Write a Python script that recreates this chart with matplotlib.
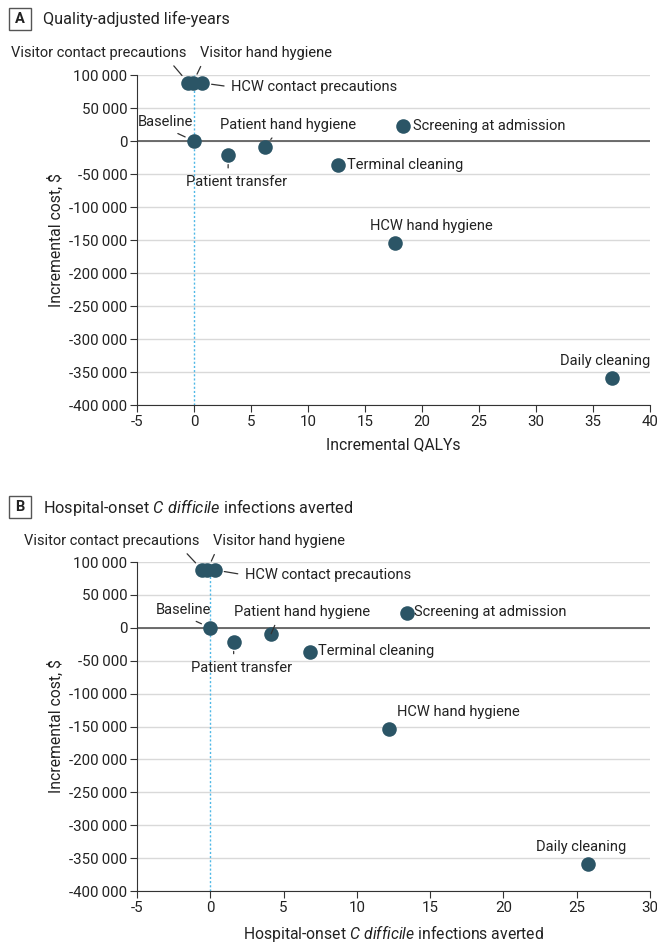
import matplotlib
matplotlib.use('Agg')
import matplotlib.pyplot as plt
from matplotlib.ticker import FuncFormatter, MultipleLocator
from matplotlib.patches import Rectangle

plt.rcParams['font.family'] = ['Roboto', 'DejaVu Sans']
plt.rcParams['mathtext.fontset'] = 'custom'
plt.rcParams['mathtext.it'] = 'Roboto:italic'
plt.rcParams['mathtext.rm'] = 'Roboto'

# Data
strategies = ['Visitor contact precautions', 'Visitor hand hygiene', 'HCW contact precautions',
              'Baseline', 'Patient hand hygiene', 'Patient transfer', 'Screening at admission',
              'Terminal cleaning', 'HCW hand hygiene', 'Daily cleaning']
incr_cost = [88000, 88000, 88000, 0, -9000, -21000, 23000, -36000, -154500, -359000]
incr_qalys = [-0.5, -0.1, 0.7, 0, 6.2, 3.0, 18.3, 12.6, 17.6, 36.7]
incr_cdi = [-0.55, -0.2, 0.3, 0, 4.15, 1.6, 13.4, 6.8, 12.2, 25.8]

dot_color = '#2b5566'
text_color = '#222222'

# label placement: (dx, dy) pixels offset, ha, leader relpos or None
labels_a = {
    'Visitor contact precautions': (-2, 30, 'right', (0.9, 0)),
    'Visitor hand hygiene': (7, 30, 'left', (0.03, 0)),
    'HCW contact precautions': (29, -4, 'left', (0, 0.5)),
    'Baseline': (-1, 19, 'right', (0.55, 0)),
    'Patient hand hygiene': (-45, 22, 'left', (0.42, 0)),
    'Patient transfer': (8, -27, 'center', (0.42, 1)),
    'Screening at admission': (10, 0, 'left', None),
    'Terminal cleaning': (9, 0, 'left', None),
    'HCW hand hygiene': (-25, 17, 'left', None),
    'Daily cleaning': (38, 17, 'right', None),
}
labels_b = {
    'Visitor contact precautions': (-3, 29, 'right', (0.9, 0)),
    'Visitor hand hygiene': (6, 29, 'left', (0.03, 0)),
    'HCW contact precautions': (30, -5, 'left', (0, 0.5)),
    'Baseline': (1, 18, 'right', (0.55, 0)),
    'Patient hand hygiene': (-37, 22, 'left', (0.32, 0)),
    'Patient transfer': (8, -26, 'center', (0.42, 1)),
    'Screening at admission': (7, 1, 'left', None),
    'Terminal cleaning': (8, 1, 'left', None),
    'HCW hand hygiene': (8, 17, 'left', None),
    'Daily cleaning': (38, 17, 'right', None),
}


def fmt_thousands(v, pos):
    s = '{:,.0f}'.format(abs(v)).replace(',', '\u2009')
    return ('-' if v < 0 else '') + s


def draw_panel(ax, xs, labels, xlim, xlabel):
    ax.set_xlim(*xlim)
    ax.set_ylim(-400000, 100000)
    ax.yaxis.set_major_locator(MultipleLocator(50000))
    ax.xaxis.set_major_locator(MultipleLocator(5))
    ax.yaxis.set_major_formatter(FuncFormatter(fmt_thousands))
    ax.xaxis.set_major_formatter(FuncFormatter(lambda v, p: '%d' % v))
    ax.grid(axis='y', color='#d9d9d9', linewidth=1)
    ax.set_axisbelow(True)
    for s in ['top', 'right']:
        ax.spines[s].set_visible(False)
    for s in ['left', 'bottom']:
        ax.spines[s].set_color('#333333')
    ax.tick_params(colors='#333333', labelcolor=text_color, labelsize=10.8, length=5, pad=2)
    ax.axhline(0, color='#555555', linewidth=1.2, zorder=1)
    ax.axvline(0, color='#4fb8e6', linewidth=1, linestyle=(0, (1.5, 1.5)), zorder=1)
    ax.scatter(xs, incr_cost, s=110, color=dot_color, zorder=3, linewidths=0)
    for name, x, y in zip(strategies, xs, incr_cost):
        dx, dy, ha, rel = labels[name]
        kw = {}
        if rel is not None:
            kw['arrowprops'] = dict(arrowstyle='-', color='#333333', lw=0.9,
                                    relpos=rel, shrinkA=3, shrinkB=7)
        ax.annotate(name, (x, y), xytext=(dx, dy), textcoords='offset pixels',
                    ha=ha, va='center', fontsize=10.5, color=text_color,
                    annotation_clip=False, **kw)
    ax.set_ylabel('Incremental cost, $', fontsize=11.3, color=text_color, labelpad=4)
    ax.set_xlabel(xlabel, fontsize=11.3, color=text_color, labelpad=6)


fig = plt.figure(figsize=(6.57, 9.47), dpi=100)
ax1 = fig.add_axes([0.2085, 0.5723, 0.7808, 0.3485])
ax2 = fig.add_axes([0.2085, 0.0591, 0.7808, 0.3474])

draw_panel(ax1, incr_qalys, labels_a, (-5, 40), 'Incremental QALYs')
draw_panel(ax2, incr_cdi, labels_b, (-5, 30),
           r'Hospital-onset $\mathit{C\ difficile}$ infections averted')

# panel headers
for letter, ytop, title in [('A', 8, 'Quality-adjusted life-years'),
                            ('B', 496, r'Hospital-onset $\mathit{C\ difficile}$ infections averted')]:
    fig.patches.append(Rectangle((9 / 657, 1 - (ytop + 22) / 947), 22 / 657, 22 / 947,
                                 transform=fig.transFigure, fill=False,
                                 edgecolor='#555555', linewidth=1))
    fig.text(20 / 657, 1 - (ytop + 11) / 947, letter, ha='center', va='center',
             fontsize=10.5, fontweight='bold', color=text_color)
    fig.text(43 / 657, 1 - (ytop + 11) / 947, title, ha='left', va='center',
             fontsize=11.7, color=text_color)

plt.savefig('out.png', dpi=100)
